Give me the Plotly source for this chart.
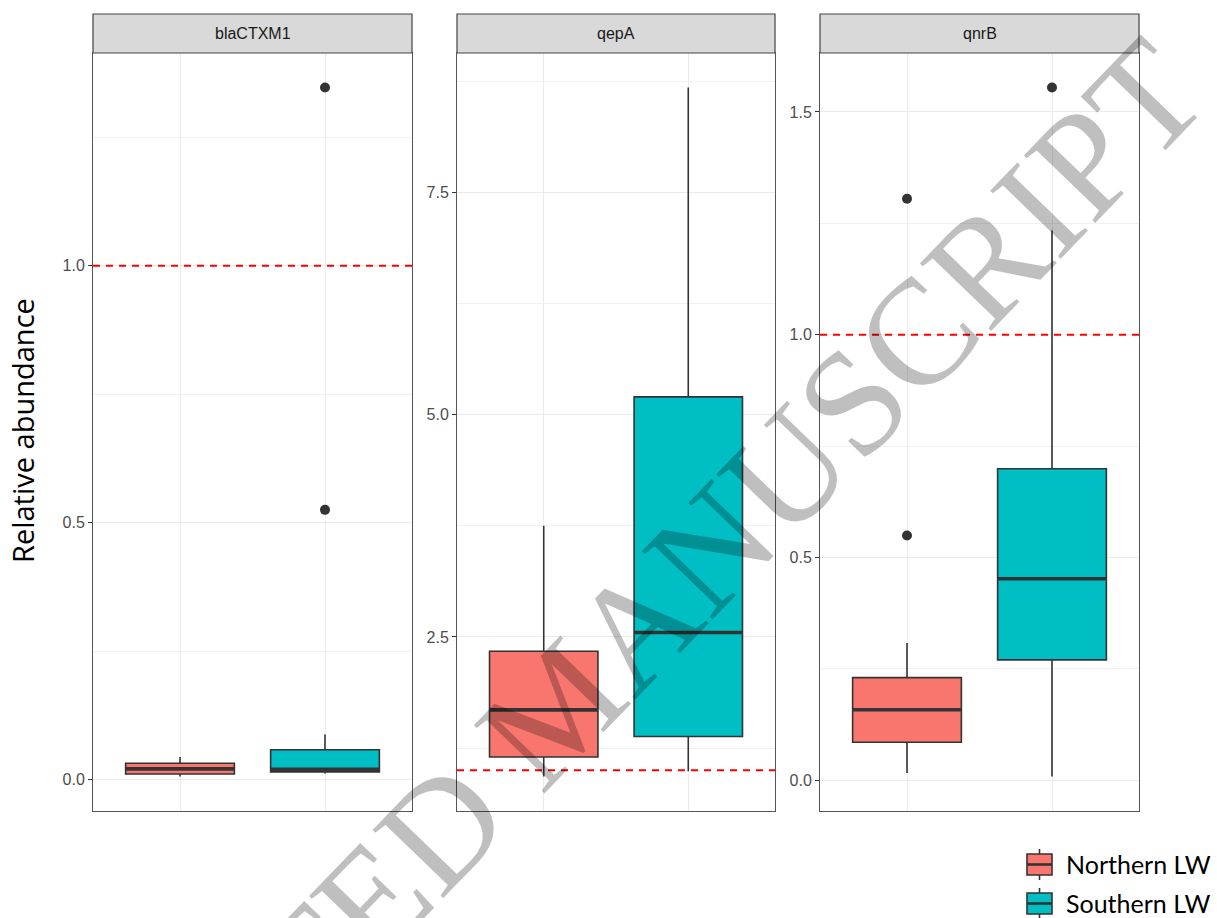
import plotly.graph_objects as go

# ---- data -------------------------------------------------------------
genes = ["blaCTXM1", "qepA", "qnrB"]
groups = ["Northern LW", "Southern LW"]
group_colors = ["#F8766D", "#00BFC4"]

# box statistics per gene (same order as `genes`)
north_lower = [0.006, 0.93, 0.016]
north_q1 = [0.011, 1.15, 0.085]
north_median = [0.021, 1.68, 0.158]
north_q3 = [0.032, 2.34, 0.230]
north_upper = [0.044, 3.75, 0.308]
north_outliers = [[], [], [1.305, 0.549]]

south_lower = [0.012, 0.99, 0.008]
south_q1 = [0.015, 1.38, 0.270]
south_median = [0.020, 2.55, 0.452]
south_q3 = [0.058, 5.20, 0.699]
south_upper = [0.088, 8.68, 1.234]
south_outliers = [[1.347, 0.525], [], [1.555]]

threshold = 1.0

y_tick_vals = [[0.0, 0.5, 1.0], [2.5, 5.0, 7.5], [0.0, 0.5, 1.0, 1.5]]
y_minor_step = [0.25, 1.25, 0.25]

# ---- layout geometry (pixels) -------------------------------------------
W, H = 1217, 918
panel_x = [(93, 412), (457, 775), (820, 1139)]
panel_top, panel_bottom = 53, 811
strip_top = 14
box_width = 0.75

def px_x(p):
    return p / W

def px_y(p):
    return 1 - p / H

stats = {
    0: dict(lower=north_lower, q1=north_q1, med=north_median, q3=north_q3,
            upper=north_upper, out=north_outliers),
    1: dict(lower=south_lower, q1=south_q1, med=south_median, q3=south_q3,
            upper=south_upper, out=south_outliers),
}

fig = go.Figure()

for gi, gene in enumerate(genes):
    ax = "" if gi == 0 else str(gi + 1)
    xref, yref = "x" + ax, "y" + ax
    for k in (0, 1):
        s = stats[k]
        fig.add_trace(go.Box(
            x=[k], q1=[s["q1"][gi]], median=[s["med"][gi]], q3=[s["q3"][gi]],
            lowerfence=[s["lower"][gi]], upperfence=[s["upper"][gi]],
            name=groups[k], legendgroup=groups[k], showlegend=False,
            fillcolor=group_colors[k], line=dict(color="#333333", width=1.6),
            width=box_width, whiskerwidth=0, boxpoints=False,
            hoverinfo="skip", xaxis=xref, yaxis=yref,
        ))
        # thicker median bar, as in ggplot2
        fig.add_trace(go.Scatter(
            x=[k - box_width / 2, k + box_width / 2],
            y=[s["med"][gi], s["med"][gi]],
            mode="lines", line=dict(color="#333333", width=3.6),
            showlegend=False, hoverinfo="skip", xaxis=xref, yaxis=yref,
        ))
        if s["out"][gi]:
            fig.add_trace(go.Scatter(
                x=[k] * len(s["out"][gi]), y=s["out"][gi], mode="markers",
                marker=dict(color="#333333", size=10),
                showlegend=False, hoverinfo="skip", xaxis=xref, yaxis=yref,
            ))

    # y range: data extent (incl. whiskers/outliers) expanded by 5 %
    vals = []
    for k in (0, 1):
        s = stats[k]
        vals += [s["lower"][gi], s["upper"][gi]] + s["out"][gi]
    lo, hi = min(vals), max(vals)
    pad = 0.05 * (hi - lo)

    x0, x1 = panel_x[gi]
    fig.update_layout(**{
        "xaxis" + ax: dict(
            domain=[px_x(x0), px_x(x1)], range=[-0.6, 1.6],
            tickvals=[0, 1], showticklabels=False, ticks="",
            showgrid=True, gridcolor="#EBEBEB", gridwidth=1.1,
            zeroline=False, showline=True, mirror=True,
            linecolor="#555555", linewidth=1,
            anchor="y" + ax,
        ),
        "yaxis" + ax: dict(
            domain=[px_y(panel_bottom), px_y(panel_top)],
            range=[lo - pad, hi + pad],
            tickvals=y_tick_vals[gi], tickformat=".1f",
            ticks="outside", ticklen=4, tickcolor="#333333", tickwidth=1.2,
            tickfont=dict(family="Liberation Sans, Arial", size=16, color="#4D4D4D"),
            showgrid=True, gridcolor="#EBEBEB", gridwidth=1.1,
            minor=dict(dtick=y_minor_step[gi], tick0=0, showgrid=True,
                       gridcolor="#F1F1F1", gridwidth=1, ticks=""),
            zeroline=False, showline=True, mirror=True,
            linecolor="#555555", linewidth=1,
            anchor="x" + ax,
        ),
    })

    # dashed reference line at relative abundance = 1
    fig.add_shape(type="line", xref=xref + " domain", yref=yref,
                  x0=0, x1=1, y0=threshold, y1=threshold,
                  line=dict(color="#FF0000", width=2, dash="7px,6px"), layer="above")

    # facet strip
    fig.add_shape(type="rect", xref="paper", yref="paper",
                  x0=px_x(x0), x1=px_x(x1), y0=px_y(panel_top), y1=px_y(strip_top),
                  fillcolor="#D9D9D9", line=dict(color="#444444", width=1.2))
    fig.add_annotation(text=gene, xref="paper", yref="paper",
                       x=px_x((x0 + x1) / 2), y=px_y((panel_top + strip_top) / 2),
                       showarrow=False, xanchor="center", yanchor="middle",
                       font=dict(family="Liberation Sans, Arial", size=16, color="#1A1A1A"))

# ---- legend (ggplot-style boxplot keys, bottom right) ---------------------
key_left, key_right = 1027, 1052
key_centers = [864.5, 903.5]
key_half = 10.5
whisker_len = 5
for k, cy in enumerate(key_centers):
    cx = (key_left + key_right) / 2
    fig.add_shape(type="line", xref="paper", yref="paper",
                  x0=px_x(cx), x1=px_x(cx),
                  y0=px_y(cy - key_half - whisker_len), y1=px_y(cy + key_half + whisker_len),
                  line=dict(color="#333333", width=1.6))
    fig.add_shape(type="rect", xref="paper", yref="paper",
                  x0=px_x(key_left), x1=px_x(key_right),
                  y0=px_y(cy + key_half), y1=px_y(cy - key_half),
                  fillcolor=group_colors[k], line=dict(color="#333333", width=1.6))
    fig.add_shape(type="line", xref="paper", yref="paper",
                  x0=px_x(key_left), x1=px_x(key_right), y0=px_y(cy), y1=px_y(cy),
                  line=dict(color="#333333", width=2.6))
    fig.add_annotation(text=groups[k], xref="paper", yref="paper",
                       x=px_x(1064), y=px_y(cy - 1), showarrow=False,
                       xanchor="left", yanchor="middle",
                       font=dict(family="Lato", size=25, color="#000000"))

# shared y-axis title
fig.add_annotation(text="Relative abundance", xref="paper", yref="paper",
                   x=px_x(22), y=px_y(431), textangle=-90, showarrow=False,
                   xanchor="center", yanchor="middle",
                   font=dict(family="Open Sans", size=29, color="#000000"))

# diagonal watermark
fig.add_annotation(text="ACCEPTED MANUSCRIPT", xref="paper", yref="paper",
                   x=px_x(558), y=px_y(706), textangle=-46, showarrow=False,
                   xanchor="center", yanchor="middle",
                   font=dict(family="Liberation Serif, Times New Roman, serif",
                             size=150, color="rgba(0,0,0,0.25)"))

fig.update_layout(
    width=W, height=H,
    margin=dict(l=0, r=0, t=0, b=0),
    paper_bgcolor="#FFFFFF", plot_bgcolor="#FFFFFF",
    showlegend=False,
)

fig.write_html("out.html")
